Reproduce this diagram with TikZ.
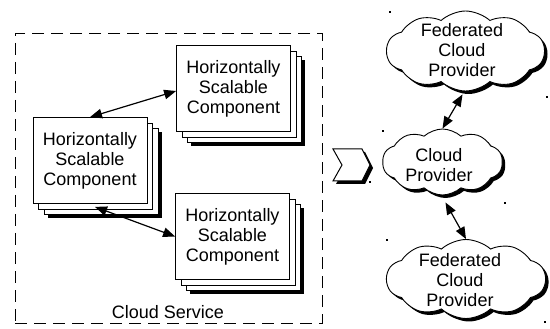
\documentclass[tikz,border=0pt]{standalone}
\usepackage{fontspec}
\setmainfont{Liberation Sans}
\usetikzlibrary{shapes.symbols,shadows,arrows.meta,calc}

\begin{document}
\begin{tikzpicture}[x=1pt,y=-1pt,
  font=\fontsize{18}{20}\selectfont,
  txt/.style={align=center, inner sep=0pt},
  comp/.style={draw, fill=white, line width=0.8pt,
    minimum width=114pt, minimum height=86pt, align=center, inner sep=2pt,
    drop shadow={shadow xshift=14.5pt, shadow yshift=-14.5pt, fill=black, opacity=1},
    double copy shadow={shadow xshift=5.5pt, shadow yshift=-5.5pt, draw=black, fill=white, line width=0.8pt}},
  puff/.style={cloud, cloud puffs=10, cloud puff arc=85, draw, fill=white,
    line width=0.9pt, inner sep=0pt,
    drop shadow={shadow xshift=3pt, shadow yshift=-3pt, fill=black, opacity=1}},
  link/.style={{Triangle[length=12pt,width=9.5pt]}-{Triangle[length=12pt,width=9.5pt]}, line width=1.2pt},
  frame/.style={draw, dash pattern=on 12pt off 7pt, line width=1pt},
  speck/.style={fill=black, inner sep=0pt, minimum size=1.6pt}]

\useasboundingbox (0,0) rectangle (550,329);

% service boundary
\node[frame, minimum width=307pt, minimum height=289pt] (svc) at (168.5,178.5) {};
\node[txt] (svclabel) at (168,312) {Cloud Service};

% horizontally scalable components
\node[comp] (lc) at (90,160.5) {Horizontally\\Scalable\\Component};
\node[comp] (tc) at (233.5,88.5) {Horizontally\\Scalable\\Component};
\node[comp] (bc) at (232.5,236.5) {Horizontally\\Scalable\\Component};

\draw[link] (lc.north) -- ([yshift=-2.5pt]tc.west);
\draw[link] ($(lc.south)+(5,3)$) -- (bc.west);

% flow chevron
\draw[fill=white, line width=1pt,
  drop shadow={shadow xshift=3pt, shadow yshift=-3pt, fill=black, opacity=1}]
  (333,149) -- (362,149) -- (370,165) -- (362,181) -- (333,181) -- (342,165) -- cycle;

% providers
\node[puff, minimum width=158pt, minimum height=80pt] (fed1) at (465.5,51) {};
\node[txt] (fed1text) at (462,50) {Federated\\Cloud\\Provider};
\node[puff, minimum width=120pt, minimum height=66pt] (cp) at (442.5,162) {};
\node[txt] (cptext) at (439,165) {Cloud\\Provider};
\node[puff, minimum width=159pt, minimum height=79pt] (fed2) at (466,279) {};
\node[txt] (fed2text) at (460,280) {Federated\\Cloud\\Provider};

\draw[link] ($(fed1.south)+(-3,3)$) -- (cp.north);
\draw[link] ($(cp.south)+(3,7)$) -- (fed2.north);

% stray specks
\foreach \p [count=\i] in {(390,12),(547,97),(383,131),(370,182),(505,203),(387,240),(545,322)}
  \node[speck] (speck\i) at \p {};
\end{tikzpicture}
\end{document}
